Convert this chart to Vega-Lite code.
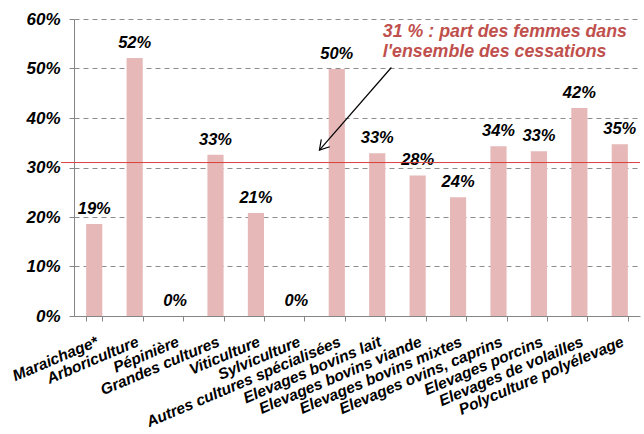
{
  "$schema": "https://vega.github.io/schema/vega-lite/v6.json",
  "width": 566,
  "height": 297,
  "autosize": "none",
  "padding": {"left": 74, "top": 19, "right": 4, "bottom": 118},
  "background": "white",
  "config": {
    "view": {"stroke": null},
    "font": "Liberation Sans",
    "axis": {
      "labelFont": "Liberation Sans",
      "labelFontWeight": "bold",
      "labelFontStyle": "italic",
      "labelColor": "black",
      "domainColor": "#868686",
      "tickColor": "#868686",
      "title": null
    }
  },
  "data": {
    "values": [
      {"cat": "Maraichage*", "v": 0.186},
      {"cat": "Arboriculture", "v": 0.521},
      {"cat": "Pépinière", "v": 0},
      {"cat": "Grandes cultures", "v": 0.326},
      {"cat": "Viticulture", "v": 0.208},
      {"cat": "Sylviculture", "v": 0},
      {"cat": "Autres cultures spécialisées", "v": 0.499},
      {"cat": "Elevages bovins lait", "v": 0.329},
      {"cat": "Elevages bovins viande", "v": 0.284},
      {"cat": "Elevages bovins mixtes", "v": 0.240},
      {"cat": "Elevages ovins, caprins", "v": 0.343},
      {"cat": "Elevages porcins", "v": 0.333},
      {"cat": "Elevages de volailles", "v": 0.420},
      {"cat": "Polyculture polyélevage", "v": 0.347}
    ]
  },
  "resolve": {"scale": {"x": "independent"}, "axis": {"x": "independent"}},
  "layer": [
    {
      "mark": {"type": "bar", "color": "#e6b9b8"},
      "encoding": {
        "x": {
          "field": "cat", "type": "nominal", "sort": null,
          "scale": {"paddingInner": 0.6, "paddingOuter": 0.3},
          "axis": {
            "labelAngle": -23, "labelAlign": "right", "labelBaseline": "top",
            "labelFontSize": 15.5, "labelPadding": 13, "tickSize": 5,
            "tickBand": "extent", "labelOverlap": false, "labelLimit": 400
          }
        },
        "y": {
          "field": "v", "type": "quantitative",
          "scale": {"domain": [0, 0.6], "nice": false},
          "axis": {
            "values": [0, 0.1, 0.2, 0.3, 0.4, 0.5, 0.6],
            "format": ".0%", "labelFontSize": 17, "labelPadding": 9, "tickSize": 5,
            "grid": true, "gridColor": "#8c8c8c", "gridDash": [5, 4], "gridWidth": 1
          }
        }
      }
    },
    {
      "mark": {"type": "text", "dy": -10, "baseline": "alphabetic", "fontSize": 16.5, "fontWeight": "bold", "fontStyle": "italic", "color": "black", "font": "Liberation Sans"},
      "encoding": {
        "x": {"field": "cat", "type": "nominal", "sort": null, "scale": {"paddingInner": 0.6, "paddingOuter": 0.3}, "axis": null},
        "y": {"field": "v", "type": "quantitative"},
        "text": {"field": "v", "type": "quantitative", "format": ".0%"}
      }
    },
    {
      "data": {"values": [{}]},
      "mark": {"type": "rule", "color": "#d9413c", "strokeWidth": 1, "clip": false},
      "encoding": {
        "x": {"datum": -0.32, "type": "quantitative", "scale": {"domain": [0, 14], "nice": false, "zero": false}, "axis": null},
        "x2": {"datum": 14.0},
        "y": {"datum": 0.31, "type": "quantitative"}
      }
    },
    {
      "data": {"values": [{}]},
      "mark": {"type": "rule", "color": "black", "strokeWidth": 1.2},
      "encoding": {
        "x": {"datum": 7.85, "type": "quantitative", "scale": {"domain": [0, 14], "nice": false, "zero": false}, "axis": null},
        "x2": {"datum": 6.07},
        "y": {"datum": 0.502, "type": "quantitative"},
        "y2": {"datum": 0.335}
      }
    },
    {
      "data": {"values": [{}]},
      "mark": {"type": "point", "shape": "M -0.6 -1 L 0 0 L 0.6 -1", "filled": false, "stroke": "black", "strokeWidth": 1.2, "size": 350, "angle": 41, "opacity": 1},
      "encoding": {
        "x": {"datum": 6.07, "type": "quantitative", "scale": {"domain": [0, 14], "nice": false, "zero": false}, "axis": null},
        "y": {"datum": 0.335, "type": "quantitative"}
      }
    },
    {
      "data": {"values": [{}]},
      "mark": {"type": "text", "align": "left", "baseline": "alphabetic", "fontSize": 17.8, "fontWeight": "bold", "fontStyle": "italic", "color": "#c0504d", "font": "Liberation Sans", "lineHeight": 19.5, "text": ["31 % : part des femmes dans", "l'ensemble des cessations"]},
      "encoding": {
        "x": {"datum": 7.64, "type": "quantitative", "scale": {"domain": [0, 14], "nice": false, "zero": false}, "axis": null},
        "y": {"datum": 0.5636, "type": "quantitative"}
      }
    }
  ]
}
